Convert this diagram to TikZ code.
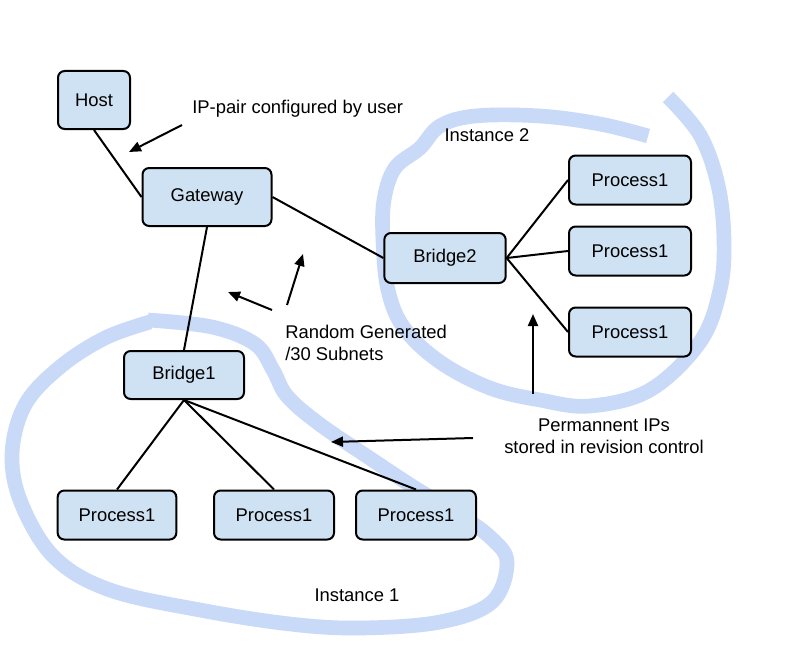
\documentclass[tikz,border=0pt]{standalone}
\usepackage{fontspec}
\setmainfont{Liberation Sans}
\usetikzlibrary{arrows.meta}
\definecolor{nodefill}{HTML}{CFE2F3}
\definecolor{penblue}{HTML}{C9DAF8}
\begin{document}
\begin{tikzpicture}[x=0.75pt,y=-0.75pt,
  box/.style={draw=black, line width=1.5pt, fill=nodefill, rounded corners=5pt,
    inner sep=0pt, font=\fontsize{13.8pt}{16pt}\selectfont},
  proc/.style={box, minimum width=91.5pt, minimum height=36.75pt},
  link/.style={line width=1.5pt, black},
  note/.style={font=\fontsize{13.8pt}{16.5pt}\selectfont, inner sep=0pt},
  arr/.style={line width=1.5pt, -{Triangle[length=9pt,width=7.5pt]}},
  pen/.style={penblue, line width=11pt, line cap=butt, line join=round}]
\useasboundingbox (0,0) rectangle (796,660);
\fill[white] (0,0) rectangle (796,660);

% hand-drawn instance outlines
\draw[pen] plot[smooth, tension=0.6] coordinates {
  (648,136) (600,124) (540,116) (475,116) (440,126) (420,148) (395,168)
  (384,200) (383,240) (388,290) (404,328) (440,362) (490,388) (540,400)
  (590,406) (650,390) (700,342) (720,290) (724,240) (718,185) (700,135) (668,97)};
\draw[pen] plot[smooth, tension=0.6] coordinates {
  (150,322) (105,338) (60,367) (25,405) (12,455) (22,505) (55,558)
  (110,590) (200,610) (290,624) (360,628) (440,622) (492,602) (507,562)
  (490,537) (455,512) (415,488) (365,455) (318,423) (287,396) (273,370)
  (255,344) (212,327) (148,320)};

% nodes
\node[box, minimum width=54pt, minimum height=43.5pt] (host) at (94,100) {Host};
\node[box, minimum width=96.75pt, minimum height=43.5pt] (gw) at (207,197) {Gateway};
\node[box, minimum width=91pt, minimum height=37.5pt] (br2) at (445,258) {Bridge2};
\node[proc] (p21) at (630,180) {Process1};
\node[proc] (p22) at (630,251) {Process1};
\node[proc] (p23) at (630,332) {Process1};
\node[box, minimum width=90pt, minimum height=36pt] (br1) at (184,375) {Bridge1};
\node[proc, minimum width=89pt] (p11) at (117,515) {Process1};
\node[proc, minimum width=90pt] (p12) at (274,515) {Process1};
\node[proc, minimum width=90pt] (p13) at (416,515) {Process1};

% links
\draw[link] (host.south) -- (gw.west);
\draw[link] (gw.east) -- (br2.west);
\draw[link] (gw.south) -- (br1.north);
\draw[link] (br2.east) -- (p21.west);
\draw[link] (br2.east) -- (p22.west);
\draw[link] (br2.east) -- (p23.west);
\draw[link] (br1.south) -- (p11.north);
\draw[link] (br1.south) -- (p12.north);
\draw[link] (br1.south) -- (p13.north);

% labels
\node[note, anchor=west] (lip) at (192,109) {IP-pair configured by user};
\node[note] (linst2) at (487,135) {Instance 2};
\node[note, anchor=west, align=left] (lrand) at (285,343) {Random Generated\\/30 Subnets};
\node[note, align=center] (lperm) at (604,436) {Permannent IPs\\stored in revision control};
\node[note] (linst1) at (357,595) {Instance 1};

% annotation arrows
\coordinate (a1s) at (182,125); \coordinate (a1e) at (129,152);
\coordinate (a2s) at (272,310); \coordinate (a2e) at (228,292);
\coordinate (a3s) at (287,305); \coordinate (a3e) at (303,254);
\coordinate (a4s) at (533,394); \coordinate (a4e) at (533,314);
\coordinate (a5s) at (473,438); \coordinate (a5e) at (331,442);
\draw[arr] (a1s) -- (a1e);
\draw[arr] (a2s) -- (a2e);
\draw[arr] (a3s) -- (a3e);
\draw[arr] (a4s) -- (a4e);
\draw[arr] (a5s) -- (a5e);
\end{tikzpicture}
\end{document}
